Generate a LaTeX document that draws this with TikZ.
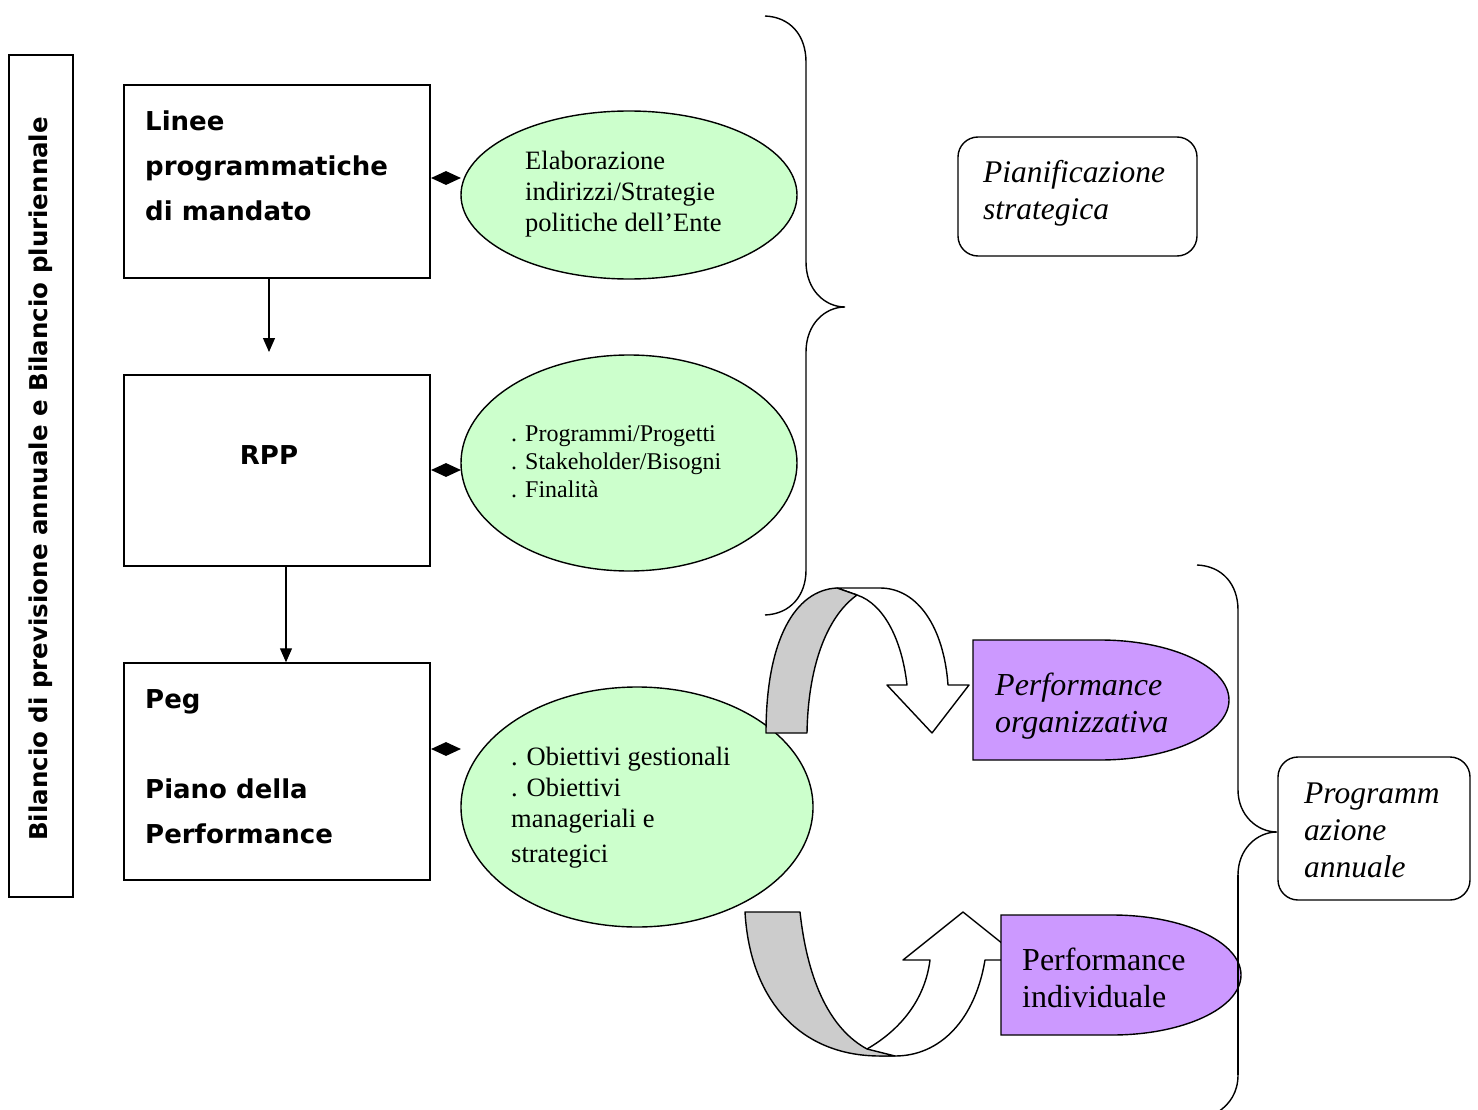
\documentclass[tikz,border=0pt]{standalone}
\usepackage{fontspec}
\setmainfont{Liberation Serif}
\newfontfamily\comicf{DejaVu Sans}
\usetikzlibrary{shapes.geometric,arrows.meta}
\definecolor{lgreen}{HTML}{CCFFCC}
\definecolor{lpurple}{HTML}{CC99FF}
\definecolor{lgray}{HTML}{CCCCCC}
\tikzset{
  sqbox/.style={draw, line width=1.4pt, minimum width=306, minimum height=#1, inner sep=0},
  greenell/.style={draw, line width=1.4pt, ellipse, fill=lgreen, inner sep=0},
  dmd/.style={diamond, fill=black, aspect=2.1, minimum width=30, minimum height=14, inner sep=0},
  flow/.style={line width=1.2pt, -{Triangle[length=14,width=12]}},
  brace/.style={line width=1.4pt},
  rbox/.style={draw, line width=1.4pt, rounded corners=20},
  band/.style={draw, line width=1.4pt, line join=round},
  txt/.style={anchor=north west, inner sep=0, align=left},
  bigsans/.style={font=\comicf\bfseries\fontsize{26}{45}\selectfont},
}
\begin{document}
\begin{tikzpicture}[x=1pt,y=-1pt]
\useasboundingbox (0,0) rectangle (1478,1110);
% left vertical box
\node[draw, line width=1.4pt, minimum width=64, minimum height=842, inner sep=0] (vbox) at (41,476) {};
\node[rotate=90, font=\comicf\bfseries\fontsize{24.5}{28}\selectfont] (vtext) at (41,479) {Bilancio di previsione annuale e Bilancio pluriennale};
% main boxes
\node[sqbox=193] (box1) at (277,181.5) {};
\node[sqbox=191] (box2) at (277,470.5) {};
\node[sqbox=217] (box3) at (277,771.5) {};
\node[txt, bigsans] (t1) at (145,111) {Linee\\programmatiche\\di mandato};
\node[bigsans, inner sep=0] (t2) at (269,455) {RPP};
\node[txt, bigsans] (t3) at (145,689) {Peg\\\mbox{}\\Piano della\\Performance};
% arrows
\coordinate (a1end) at (269,352);
\draw[flow] (box1.south -| a1end) -- (a1end);
\draw[flow] ([xshift=9]box2.south) -- ([xshift=9]box3.north);
% ellipses
\node[greenell, minimum width=336, minimum height=168] (e1) at (629,195) {};
\node[greenell, minimum width=336, minimum height=216] (e2) at (629,463) {};
\node[greenell, minimum width=352, minimum height=240] (e3) at (637,807) {};
% diamonds
\node[dmd] (d1) at (446,178) {};
\node[dmd] (d2) at (446,470) {};
\node[dmd] (d3) at (446,749) {};
% ellipse texts
\node[txt, font=\fontsize{26.5}{31}\selectfont] (et1) at (525,151) {Elaborazione\\indirizzi/Strategie\\politiche dell’Ente};
\node[txt, font=\fontsize{24}{28}\selectfont] (et2) at (511,425) {. Programmi/Progetti\\. Stakeholder/Bisogni\\. Finalità};
\node[txt, font=\fontsize{26.5}{31}\selectfont] (et3) at (511,747) {. Obiettivi gestionali\\. Obiettivi\\manageriali e\\[4pt]strategici};
% brace 1
\draw[brace] (765,16) .. controls (790,17) and (806,35) .. (806,62) -- (806,262)
  .. controls (806,290) and (825,307) .. (845,307)
  .. controls (825,307) and (806,324) .. (806,352) -- (806,570)
  .. controls (806,596) and (790,614) .. (765,615);
% brace 2
\draw[brace] (1197,565) .. controls (1222,566) and (1238,584) .. (1238,610) -- (1238,790)
  .. controls (1238,815) and (1257,832) .. (1277,832)
  .. controls (1257,832) and (1238,849) .. (1238,875) -- (1238,1075)
  .. controls (1238,1092) and (1230,1104) .. (1218,1112);
% rounded boxes
\draw[rbox] (958,137) rectangle (1197,256);
\node[txt, font=\itshape\fontsize{31.5}{37}\selectfont] (pstr) at (983,160) {Pianificazione\\strategica};
\draw[rbox] (1278,757) rectangle (1470,900);
\node[txt, font=\itshape\fontsize{31.5}{37}\selectfont] (pann) at (1304,783) {Programm\\azione\\annuale};
% curved arrow 1
\draw[band, fill=white] (837,588) -- (880,588) .. controls (918,588) and (944,628) .. (948,685)
  -- (969,685) -- (932,733) -- (887,685) -- (907,685)
  .. controls (902,640) and (884,604) .. (857,595) -- cycle;
\draw[band, fill=lgray] (766,733) -- (807,733) .. controls (808,670) and (825,618) .. (857,595)
  -- (837,588) .. controls (795,590) and (766,640) .. (766,733) -- cycle;
% curved arrow 2
\draw[band, fill=white] (867,1049) .. controls (900,1030) and (925,1000) .. (930,960)
  -- (903,960) -- (963,912) -- (1023,960) -- (985,960)
  .. controls (975,1020) and (940,1056) .. (895,1056) -- (880,1056) -- cycle;
\draw[band, fill=lgray] (745,912) -- (800,912) .. controls (808,985) and (832,1030) .. (867,1049)
  -- (895,1056) -- (880,1056) .. controls (800,1056) and (750,1000) .. (745,912) -- cycle;
% purple shapes
\draw[line width=1.4pt, fill=lpurple] (973,640) -- (1100,640) arc[start angle=-90, end angle=90, x radius=129, y radius=60] -- (973,760) -- cycle;
\node[txt, font=\itshape\fontsize{32}{37}\selectfont] (porg) at (995,673) {Performance\\organizzativa};
\draw[line width=1.4pt, fill=lpurple] (1001,915) -- (1112,915) arc[start angle=-90, end angle=90, x radius=129, y radius=60] -- (1001,1035) -- cycle;
\node[txt, font=\fontsize{32}{37}\selectfont] (pind) at (1022,948) {Performance\\individuale};
% brace 2 line on top of purple
\draw[brace] (1238,875) -- (1238,1075);
\end{tikzpicture}
\end{document}
